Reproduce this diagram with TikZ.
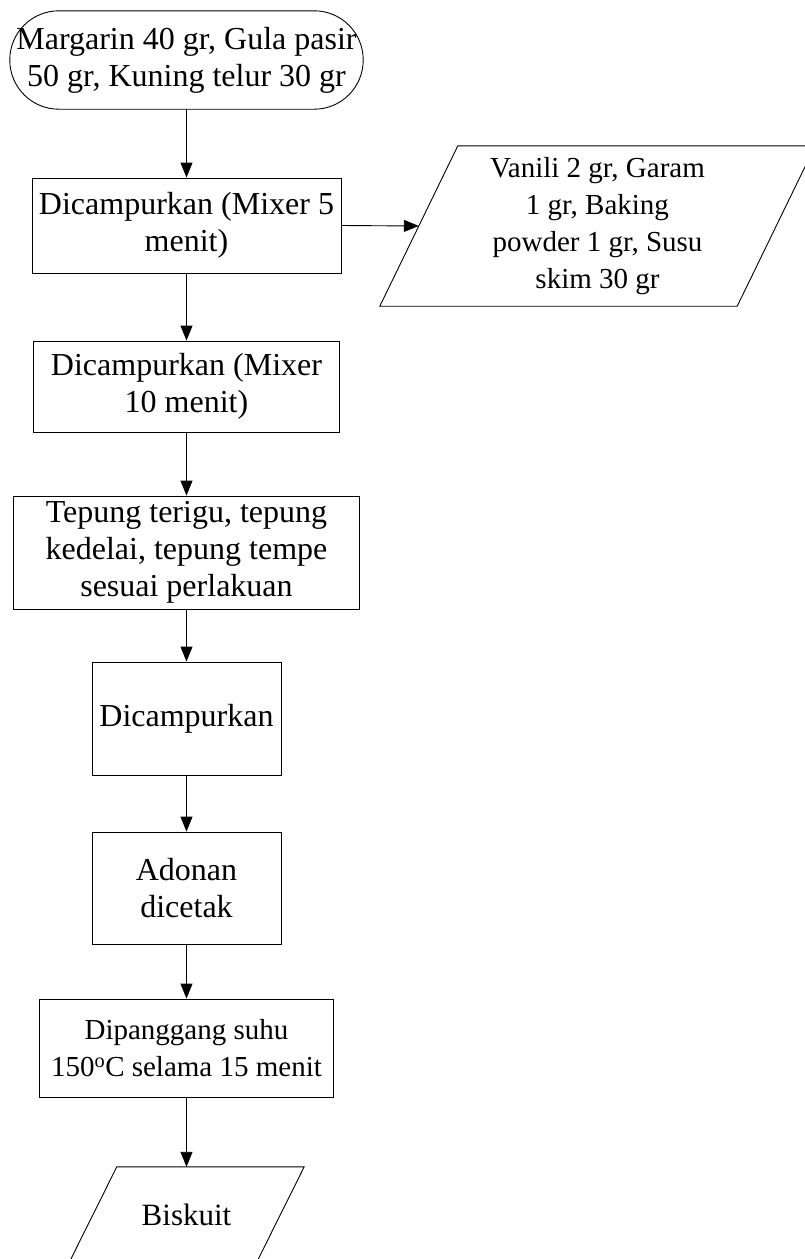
\documentclass[tikz,border=0pt]{standalone}
\usepackage{fontspec}
\setmainfont{Liberation Serif}
\usepackage{tikz}
\usetikzlibrary{arrows.meta}
\tikzset{
	termstyle/.style={rectangle,inner sep=0pt,minimum width=353pt,minimum height=98pt,align=center},
	procstyle/.style={rectangle,draw=black,line width=0.9pt,inner sep=0pt,align=center},
	datastyle/.style={rectangle,inner sep=0pt,align=center},
	edgestyle/.style={line width=0.9pt},
	linkstyle/.style={line width=0.9pt,-{Triangle[width=12pt,length=15pt]}}
}
\begin{document}
\begin{tikzpicture}[x=1pt,y=-1pt]
		\fontsize{32}{37}\selectfont
		\useasboundingbox (0,0) rectangle (805,1259);
		\node[termstyle] (start) at (186.5,60) {Margarin 40 gr, Gula pasir\\50 gr, Kuning telur 30 gr};
		\draw[edgestyle,rounded corners=49pt] (start.south west) rectangle (start.north east);
		\node[procstyle,minimum width=309pt,minimum height=95pt] (mix1) at (186.5,225.5) {Dicampurkan (Mixer 5\\menit)};
		\node[datastyle,minimum width=435pt,minimum height=160pt] (vanili) at (597.5,226) {\fontsize{29}{34}\selectfont Vanili 2 gr, Garam\\\fontsize{29}{34}\selectfont 1 gr, Baking\\\fontsize{29}{34}\selectfont powder 1 gr, Susu\\\fontsize{29}{34}\selectfont skim 30 gr};
		\draw[edgestyle] ([xshift=78pt]vanili.north west)--(vanili.north east)--([xshift=-78pt]vanili.south east)--(vanili.south west)--cycle;
		\coordinate (vaniliin) at ([xshift=39pt]vanili.west);
		\node[procstyle,minimum width=306pt,minimum height=91pt] (mix2) at (186.5,386.5) {Dicampurkan (Mixer\\10 menit)};
		\node[procstyle,minimum width=346pt,minimum height=113pt] (flour) at (186.5,552.5) {Tepung terigu, tepung\\kedelai, tepung tempe\\sesuai perlakuan};
		\node[procstyle,minimum width=189pt,minimum height=113pt] (mix3) at (186.5,718.5) {Dicampurkan};
		\node[procstyle,minimum width=189pt,minimum height=112pt] (mold) at (186.5,888) {Adonan\\dicetak};
		\node[procstyle,minimum width=294pt,minimum height=98pt] (bake) at (186.5,1048) {\fontsize{29}{34}\selectfont Dipanggang suhu\\\fontsize{29}{34}\selectfont 150\textsuperscript{o}C selama 15 menit};
		\node[datastyle,minimum width=235pt,minimum height=96pt] (biscuit) at (186.5,1215) {\fontsize{31}{36}\selectfont Biskuit};
		\draw[edgestyle] ([xshift=48pt]biscuit.north west)--(biscuit.north east)--([xshift=-48pt]biscuit.south east)--(biscuit.south west)--cycle;
		\draw[linkstyle] (start)--(mix1);
		\draw[linkstyle] (mix1.east)--(vaniliin);
		\draw[linkstyle] (mix1)--(mix2);
		\draw[linkstyle] (mix2)--(flour);
		\draw[linkstyle] (flour)--(mix3);
		\draw[linkstyle] (mix3)--(mold);
		\draw[linkstyle] (mold)--(bake);
		\draw[linkstyle] (bake)--(biscuit.north);
		\end{tikzpicture}
\end{document}
